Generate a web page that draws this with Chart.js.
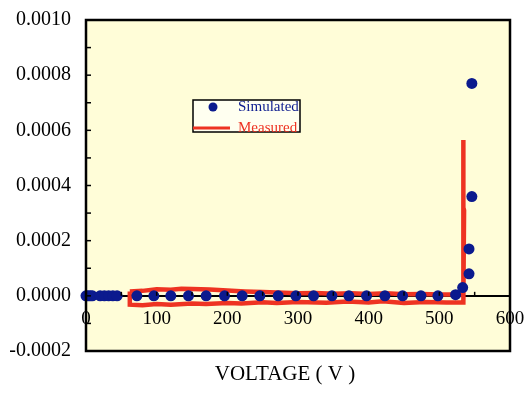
<!DOCTYPE html>
<html>
<head>
<meta charset="utf-8">
<title>I-V curve</title>
<script src="https://cdn.jsdelivr.net/npm/chart.js@4/dist/chart.umd.min.js"></script>
<style>
  html, body { margin: 0; padding: 0; background: #fff; }
</style>
</head>
<body>
<canvas id="iv-chart" width="524" height="403"></canvas>
<script>
// Simulated leakage current (A) vs applied voltage (V)
const simVoltage = [0, 3, 6, 9, 20, 26, 32, 38, 44, 72, 96, 120, 145, 170, 196, 221, 246, 272, 297,
                    322, 348, 372, 397, 423, 448, 474, 498, 523, 533, 542, 542, 546, 546];
const simCurrent = [0, 0, 0, 0, 0, 0, 0, 0, 0, 0, 0, 0, 0, 0, 0, 0, 0, 0, 0,
                    0, 0, 0, 0, 0, 0, 0, 0, 0.000004, 0.00003, 0.00008, 0.00017, 0.00036, 0.00077];

// Measured sweep: up along the top trace, breakdown spike, back along the bottom trace
const measVoltage = [62, 80, 100, 120, 135, 150, 175, 200, 225, 250, 280, 300, 325, 350, 375, 400, 425,
                     450, 475, 500, 520, 534,
                     534, 534, 535, 534,
                     510, 480, 450, 420, 400, 370, 340, 300, 270, 250, 220, 200, 170, 150, 120, 100, 80, 62, 62];
const measCurrent = [0.000016, 0.000018, 0.000024, 0.000022, 0.000026, 0.000025, 0.000023, 0.000019,
                     0.000016, 0.000014, 0.000011, 0.000009, 0.000010, 0.000008, 0.000009, 0.000007,
                     0.000009, 0.000006, 0.000007, 0.000005, 0.000005, 0.000005,
                     0.000565, 0.00032, 0.00031, -0.000024,
                     -0.000024, -0.000022, -0.000026, -0.000020, -0.000024, -0.000021, -0.000025,
                     -0.000022, -0.000026, -0.000023, -0.000028, -0.000026, -0.000030, -0.000028,
                     -0.000032, -0.000030, -0.000034, -0.000032, 0.000016];

const seriesNames = ['Simulated', 'Measured'];
const simColor = '#0b1a8e';
const measColor = '#ee3322';
const serif = "'Liberation Serif', 'DejaVu Serif', serif";

const toPoints = (xs, ys) => xs.map((x, i) => ({ x: x, y: ys[i] }));

// pale plot background
const plotBackground = {
    id: 'plotBackground',
    beforeDraw(chart) {
        const { ctx, chartArea: a } = chart;
        ctx.save();
        ctx.fillStyle = '#fffdd8';
        ctx.fillRect(a.left, a.top, a.right - a.left, a.bottom - a.top);
        ctx.restore();
    }
};

// frame, inward tick marks, legend box and axis title
const decorations = {
    id: 'decorations',
    afterDraw(chart) {
        const { ctx, chartArea: a, scales } = chart;
        ctx.save();

        ctx.strokeStyle = '#000';
        ctx.lineWidth = 1.5;
        scales.y.ticks.forEach(t => {
            const py = scales.y.getPixelForValue(t.value);
            ctx.beginPath();
            ctx.moveTo(a.left, py);
            ctx.lineTo(a.left + 5, py);
            ctx.stroke();
        });
        const y0 = scales.y.getPixelForValue(0);
        scales.x.ticks.forEach(t => {
            const px = scales.x.getPixelForValue(t.value);
            ctx.beginPath();
            ctx.moveTo(px, y0);
            ctx.lineTo(px, y0 - 4);
            ctx.stroke();
        });

        ctx.lineWidth = 2.5;
        ctx.strokeRect(a.left, a.top, a.right - a.left, a.bottom - a.top);

        // legend
        ctx.fillStyle = '#fffff0';
        ctx.fillRect(193, 100, 107, 32);
        ctx.lineWidth = 1.5;
        ctx.strokeRect(193, 100, 107, 32);

        ctx.fillStyle = simColor;
        ctx.beginPath();
        ctx.arc(213, 107, 4.5, 0, Math.PI * 2);
        ctx.fill();
        ctx.strokeStyle = measColor;
        ctx.lineWidth = 3;
        ctx.beginPath();
        ctx.moveTo(193, 128);
        ctx.lineTo(230, 128);
        ctx.stroke();

        ctx.font = '15px ' + serif;
        ctx.textBaseline = 'middle';
        ctx.textAlign = 'left';
        ctx.fillStyle = simColor;
        ctx.fillText(seriesNames[0], 238, 107);
        ctx.fillStyle = measColor;
        ctx.fillText(seriesNames[1], 238, 128);

        ctx.fillStyle = '#000';
        ctx.font = '21px ' + serif;
        ctx.textAlign = 'center';
        ctx.fillText('VOLTAGE ( V )', 285, 374);
        ctx.restore();
    }
};

new Chart(document.getElementById('iv-chart'), {
    type: 'scatter',
    data: {
        datasets: [
            {
                label: seriesNames[1],
                data: toPoints(measVoltage, measCurrent),
                showLine: true,
                borderColor: measColor,
                borderWidth: 4.5,
                pointRadius: 0,
                tension: 0,
                order: 2
            },
            {
                label: seriesNames[0],
                data: toPoints(simVoltage, simCurrent),
                backgroundColor: simColor,
                borderWidth: 0,
                pointRadius: 5.5,
                clip: false,
                order: 1
            }
        ]
    },
    options: {
        responsive: false,
        animation: false,
        layout: { padding: { left: 0, top: 20, right: 14, bottom: 52 } },
        plugins: {
            legend: { display: false },
            tooltip: { enabled: false }
        },
        scales: {
            x: {
                type: 'linear',
                position: { y: 0 },
                min: 0,
                max: 600,
                afterFit: s => { s.paddingLeft = 0; s.paddingRight = 0; s.paddingTop = 0; s.paddingBottom = 0; },
                border: { display: true, color: '#000', width: 2 },
                grid: { display: false, drawTicks: false },
                ticks: {
                    stepSize: 50,
                    autoSkip: false,
                    maxRotation: 0,
                    padding: 12,
                    color: '#000',
                    font: { family: serif, size: 19 },
                    callback: v => (v % 100 === 0 ? String(v) : '')
                }
            },
            y: {
                type: 'linear',
                min: -0.0002,
                max: 0.001,
                afterFit: s => { s.width = 86; s.paddingTop = 0; s.paddingBottom = 0; },
                border: { display: false },
                grid: { display: false, drawTicks: false },
                ticks: {
                    stepSize: 0.0001,
                    autoSkip: false,
                    padding: 15,
                    color: '#000',
                    font: { family: serif, size: 20 },
                    callback: v => (Math.round(v / 0.0001) % 2 === 0 ? v.toFixed(4) : '')
                }
            }
        }
    },
    plugins: [plotBackground, decorations]
});
</script>
</body>
</html>
